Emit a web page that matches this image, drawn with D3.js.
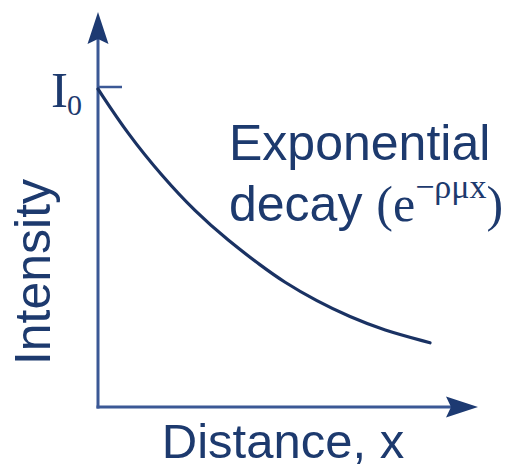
<!DOCTYPE html>
<html>
<head>
<meta charset="utf-8">
<script src="https://cdn.jsdelivr.net/npm/d3@7"></script>
<style>
  html, body { margin: 0; padding: 0; background: #fff; }
  svg { display: block; }
</style>
</head>
<body>
<script>
// Data (distance in arbitrary units, intensity relative to I0)
const distance  = [0, 0.9, 1.93, 2.92, 3.92, 4.94, 5.57, 6.6, 7.59, 8.58, 10];
const intensity = [1, 0.858, 0.726, 0.615, 0.523, 0.442, 0.395, 0.332, 0.283, 0.242, 0.202];
const xLabel = "Distance, x";
const yLabel = "Intensity";
const i0Label = "I";
const i0Sub = "0";
const curveLabel1 = "Exponential";
const curveLabel2 = "decay ";

const W = 523, H = 470;
const textColor = "#1d3a6e", axisColor = "#3b5895", curveColor = "#1a3263";

const svg = d3.select("body").append("svg").attr("width", W).attr("height", H);

const x = d3.scaleLinear().domain([0, 10]).range([98, 430]);
const y = d3.scaleLinear().domain([0, 1]).range([407, 89]);

// axes lines
const ax = svg.append("g").attr("stroke", axisColor).attr("stroke-width", 3).attr("fill", "none");
ax.append("line").attr("x1", x(0)).attr("y1", y(0) + 1.5).attr("x2", x(0)).attr("y2", 30);
ax.append("line").attr("x1", x(0) - 1.5).attr("y1", y(0)).attr("x2", 462).attr("y2", y(0));
// I0 tick
ax.append("line").attr("x1", x(0)).attr("y1", y(1) - 2).attr("x2", 122).attr("y2", y(1) - 2).attr("stroke-width", 2.5);

// arrowheads
svg.append("path").attr("fill", "#1d3a72")
  .attr("d", `M${x(0)},12 L${x(0)+10.5},44 L${x(0)},39 L${x(0)-10.5},44 Z`);
svg.append("path").attr("fill", "#1d3a72")
  .attr("d", `M478,${y(0)} L446,${y(0)-10.5} L451,${y(0)} L446,${y(0)+10.5} Z`);

// curve
const pts = distance.map((d, i) => [d, intensity[i]]);
svg.append("path").datum(pts)
  .attr("fill", "none").attr("stroke", curveColor).attr("stroke-width", 3.2)
  .attr("stroke-linecap", "round")
  .attr("d", d3.line().x(d => x(d[0])).y(d => y(d[1])).curve(d3.curveBasis));

// labels
const sans = "'Liberation Sans', Arial, sans-serif";
const serif = "'Liberation Serif', 'Times New Roman', serif";

const i0 = svg.append("text").attr("x", 51).attr("y", 107).attr("fill", textColor)
  .style("font-family", serif).style("font-size", "51px");
i0.append("tspan").text(i0Label);
i0.append("tspan").attr("x", 67).attr("y", 115).style("font-size", "30px").text(i0Sub);

svg.append("text").attr("x", 229).attr("y", 160).attr("fill", textColor)
  .style("font-family", sans).style("font-size", "50px").text(curveLabel1);

const t2 = svg.append("text").attr("x", 229).attr("y", 221).attr("fill", textColor)
  .style("font-family", sans).style("font-size", "50px");
t2.append("tspan").text(curveLabel2);
t2.append("tspan").style("font-family", serif).text("(e");
t2.append("tspan").style("font-family", serif).style("font-size", "34px").attr("dy", -23).text("\u2212\u03C1\u03BCx");
t2.append("tspan").style("font-family", serif).attr("dy", 23).text(")");

svg.append("text").attr("x", 283).attr("y", 458).attr("text-anchor", "middle").attr("fill", textColor)
  .style("font-family", sans).style("font-size", "49px").text(xLabel);

svg.append("text").attr("transform", "translate(50,272) rotate(-90)").attr("text-anchor", "middle")
  .attr("fill", textColor).style("font-family", sans).style("font-size", "50px").text(yLabel);
</script>
</body>
</html>
